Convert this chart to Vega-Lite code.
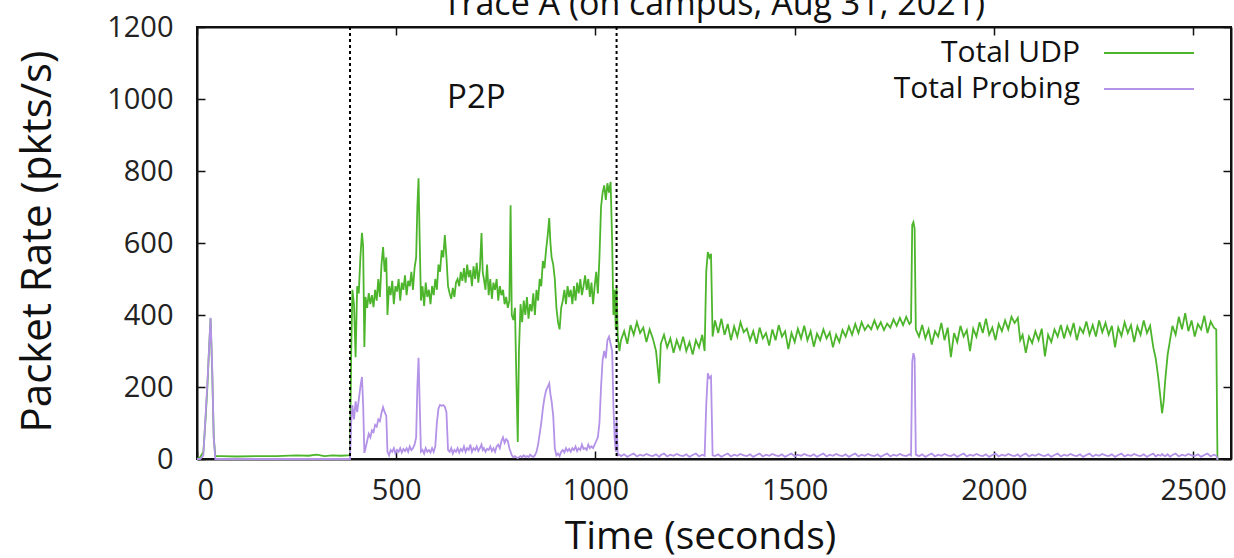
{
  "$schema": "https://vega.github.io/schema/vega-lite/v6.json",
  "width": 1034,
  "height": 432,
  "autosize": {"type": "none"},
  "padding": {"left": 197, "top": 27, "right": 3, "bottom": 99},
  "background": "white",
  "title": {"text": "Trace A (on campus, Aug 31, 2021)", "font": "Open Sans", "fontSize": 34, "fontWeight": "normal", "color": "#111", "offset": 6, "dy": 15, "anchor": "middle"},
  "config": {
    "view": {"stroke": "#111", "strokeWidth": 2},
    "axis": {"domainColor": "#111", "domainWidth": 2, "tickColor": "#111", "tickWidth": 1.5, "grid": false, "labelFont": "Open Sans", "labelFontSize": 29, "labelColor": "#222", "titleFont": "Open Sans", "titleFontWeight": "normal", "titleColor": "#111", "format": "d"}
  },
  "datasets": {
    "main": [
      {"t":0,"u":0,"p":0},{"t":8,"u":5,"p":0},{"t":16,"u":20,"p":10},{"t":22,"u":120,"p":130},{"t":26,"u":200,"p":210},{"t":30,"u":300,"p":300},{"t":34,"u":390,"p":392},{"t":38,"u":250,"p":260},{"t":42,"u":60,"p":60},{"t":46,"u":8,"p":0},
      {"t":60,"u":8,"p":0},{"t":100,"u":7,"p":0},{"t":150,"u":8,"p":0},{"t":200,"u":8,"p":0},{"t":250,"u":10,"p":0},{"t":280,"u":9,"p":0},{"t":300,"u":12,"p":0},{"t":320,"u":8,"p":0},{"t":340,"u":10,"p":0},{"t":360,"u":9,"p":0},{"t":380,"u":10,"p":0},
      {"t":384,"u":10,"p":0},{"t":387,"u":300,"p":100},{"t":390,"u":470,"p":150},{"t":394,"u":430,"p":110},{"t":398,"u":283,"p":160},{"t":402,"u":480,"p":130},{"t":406,"u":460,"p":164},{"t":410,"u":560,"p":200},{"t":414,"u":628,"p":228},{"t":417,"u":590,"p":150},
      {"t":420,"u":311,"p":17},{"t":423,"u":450,"p":30},{"t":427,"u":420,"p":50},{"t":431,"u":461,"p":70},{"t":435,"u":430,"p":60},{"t":439,"u":455,"p":80},{"t":443,"u":422,"p":75},{"t":447,"u":470,"p":95},{"t":451,"u":440,"p":90},{"t":455,"u":500,"p":110},
      {"t":459,"u":450,"p":105},{"t":463,"u":540,"p":128},{"t":467,"u":589,"p":144},{"t":471,"u":520,"p":130},{"t":475,"u":560,"p":120},{"t":478,"u":400,"p":20},{"t":482,"u":480,"p":10},{"t":486,"u":455,"p":25},{"t":490,"u":495,"p":20},{"t":494,"u":430,"p":30},
      {"t":498,"u":480,"p":15},{"t":502,"u":465,"p":25},{"t":506,"u":500,"p":20},{"t":510,"u":440,"p":30},{"t":514,"u":490,"p":18},{"t":518,"u":470,"p":28},{"t":522,"u":510,"p":22},{"t":526,"u":455,"p":30},{"t":530,"u":495,"p":20},{"t":534,"u":480,"p":35},
      {"t":538,"u":520,"p":25},{"t":542,"u":470,"p":30},{"t":546,"u":530,"p":40},{"t":550,"u":560,"p":60},{"t":553,"u":700,"p":200},{"t":556,"u":780,"p":281},{"t":559,"u":600,"p":150},{"t":562,"u":440,"p":20},{"t":566,"u":480,"p":25},{"t":570,"u":425,"p":15},
      {"t":574,"u":490,"p":30},{"t":578,"u":450,"p":20},{"t":582,"u":470,"p":25},{"t":586,"u":430,"p":18},{"t":590,"u":480,"p":30},{"t":594,"u":455,"p":20},{"t":598,"u":500,"p":35},{"t":602,"u":470,"p":100},{"t":606,"u":540,"p":140},{"t":610,"u":520,"p":150},
      {"t":614,"u":580,"p":148},{"t":618,"u":560,"p":150},{"t":622,"u":622,"p":145},{"t":626,"u":560,"p":130},{"t":630,"u":480,"p":25},{"t":634,"u":460,"p":20},{"t":638,"u":445,"p":30},{"t":642,"u":475,"p":15},{"t":646,"u":450,"p":25},{"t":650,"u":490,"p":20},
      {"t":654,"u":500,"p":30},{"t":658,"u":480,"p":18},{"t":662,"u":520,"p":28},{"t":666,"u":495,"p":22},{"t":670,"u":530,"p":35},{"t":674,"u":490,"p":20},{"t":678,"u":540,"p":30},{"t":682,"u":505,"p":25},{"t":686,"u":525,"p":40},{"t":690,"u":480,"p":20},
      {"t":694,"u":535,"p":30},{"t":698,"u":500,"p":25},{"t":702,"u":545,"p":35},{"t":706,"u":490,"p":22},{"t":710,"u":530,"p":30},{"t":714,"u":628,"p":40},{"t":717,"u":520,"p":25},{"t":720,"u":500,"p":30},{"t":724,"u":470,"p":20},{"t":728,"u":540,"p":28},
      {"t":732,"u":455,"p":25},{"t":736,"u":500,"p":35},{"t":740,"u":445,"p":22},{"t":744,"u":490,"p":30},{"t":748,"u":470,"p":20},{"t":752,"u":500,"p":35},{"t":756,"u":440,"p":40},{"t":760,"u":480,"p":30},{"t":764,"u":455,"p":50},{"t":768,"u":470,"p":60},
      {"t":772,"u":430,"p":45},{"t":776,"u":450,"p":55},{"t":780,"u":420,"p":50},{"t":784,"u":440,"p":30},{"t":787,"u":705,"p":20},{"t":790,"u":400,"p":10},{"t":794,"u":386,"p":5},{"t":798,"u":420,"p":8},{"t":801,"u":250,"p":5},{"t":805,"u":47,"p":3},
      {"t":808,"u":300,"p":5},{"t":812,"u":430,"p":8},{"t":816,"u":380,"p":5},{"t":820,"u":440,"p":10},{"t":824,"u":400,"p":6},{"t":828,"u":450,"p":8},{"t":832,"u":390,"p":5},{"t":836,"u":430,"p":12},{"t":840,"u":410,"p":8},{"t":844,"u":460,"p":6},
      {"t":848,"u":400,"p":10},{"t":852,"u":470,"p":20},{"t":856,"u":440,"p":40},{"t":860,"u":500,"p":70},{"t":864,"u":480,"p":100},{"t":868,"u":550,"p":140},{"t":872,"u":530,"p":170},{"t":876,"u":580,"p":190},{"t":880,"u":620,"p":200},{"t":884,"u":669,"p":210},
      {"t":887,"u":600,"p":180},{"t":890,"u":560,"p":160},{"t":894,"u":540,"p":120},{"t":898,"u":500,"p":30},{"t":902,"u":420,"p":10},{"t":906,"u":380,"p":15},{"t":910,"u":360,"p":8},{"t":914,"u":420,"p":20},{"t":918,"u":440,"p":25},{"t":922,"u":470,"p":18},
      {"t":926,"u":430,"p":30},{"t":930,"u":480,"p":22},{"t":934,"u":450,"p":28},{"t":938,"u":470,"p":20},{"t":942,"u":430,"p":30},{"t":946,"u":480,"p":25},{"t":950,"u":440,"p":35},{"t":954,"u":490,"p":22},{"t":958,"u":460,"p":30},{"t":962,"u":500,"p":25},
      {"t":966,"u":455,"p":40},{"t":970,"u":480,"p":28},{"t":974,"u":510,"p":30},{"t":978,"u":470,"p":25},{"t":982,"u":500,"p":40},{"t":986,"u":450,"p":30},{"t":990,"u":490,"p":35},{"t":994,"u":430,"p":30},{"t":998,"u":480,"p":40},{"t":1002,"u":520,"p":50},
      {"t":1006,"u":460,"p":60},{"t":1010,"u":560,"p":100},{"t":1014,"u":700,"p":200},{"t":1018,"u":740,"p":275},{"t":1022,"u":760,"p":300},{"t":1026,"u":720,"p":280},{"t":1030,"u":766,"p":330},{"t":1034,"u":740,"p":340},{"t":1038,"u":770,"p":320},{"t":1042,"u":600,"p":300},
      {"t":1045,"u":400,"p":150},{"t":1048,"u":470,"p":60},{"t":1051,"u":360,"p":20},{"t":1053,"u":478,"p":108},{"t":1056,"u":340,"p":10},{"t":1060,"u":300,"p":12},
      {"t":1064,"u":330,"p":8},{"t":1072,"u":355,"p":13},{"t":1080,"u":320,"p":6},{"t":1088,"u":372,"p":11},{"t":1096,"u":345,"p":15},{"t":1104,"u":380,"p":7},{"t":1112,"u":350,"p":12},{"t":1120,"u":365,"p":9},{"t":1128,"u":325,"p":14},{"t":1136,"u":360,"p":10},
      {"t":1144,"u":335,"p":8},{"t":1152,"u":300,"p":13},{"t":1160,"u":210,"p":6},{"t":1164,"u":320,"p":11},{"t":1172,"u":345,"p":15},{"t":1180,"u":310,"p":7},{"t":1188,"u":335,"p":12},{"t":1196,"u":295,"p":9},{"t":1204,"u":330,"p":14},{"t":1212,"u":305,"p":10},
      {"t":1220,"u":340,"p":8},{"t":1228,"u":300,"p":13},{"t":1236,"u":325,"p":6},{"t":1244,"u":290,"p":11},{"t":1252,"u":330,"p":15},{"t":1260,"u":310,"p":7},{"t":1268,"u":345,"p":12},{"t":1274,"u":300,"p":9},{"t":1278,"u":520,"p":150},{"t":1282,"u":575,"p":238},
      {"t":1286,"u":560,"p":225},{"t":1290,"u":570,"p":230},{"t":1294,"u":340,"p":10},{"t":1300,"u":385,"p":8},{"t":1308,"u":350,"p":13},{"t":1316,"u":390,"p":6},{"t":1324,"u":345,"p":11},{"t":1332,"u":375,"p":15},{"t":1340,"u":330,"p":7},{"t":1348,"u":368,"p":12},
      {"t":1356,"u":340,"p":9},{"t":1364,"u":380,"p":14},{"t":1372,"u":352,"p":10},{"t":1380,"u":362,"p":8},{"t":1388,"u":330,"p":13},{"t":1396,"u":355,"p":6},{"t":1404,"u":320,"p":11},{"t":1412,"u":365,"p":15},{"t":1420,"u":335,"p":7},{"t":1428,"u":350,"p":12},
      {"t":1436,"u":315,"p":9},{"t":1444,"u":360,"p":14},{"t":1452,"u":330,"p":10},{"t":1460,"u":372,"p":8},{"t":1468,"u":340,"p":13},{"t":1476,"u":355,"p":6},{"t":1484,"u":305,"p":11},{"t":1492,"u":350,"p":15},{"t":1500,"u":325,"p":7},{"t":1508,"u":362,"p":12},
      {"t":1516,"u":335,"p":9},{"t":1524,"u":370,"p":14},{"t":1532,"u":330,"p":10},{"t":1540,"u":355,"p":8},{"t":1548,"u":312,"p":13},{"t":1556,"u":348,"p":6},{"t":1564,"u":330,"p":11},{"t":1572,"u":360,"p":15},{"t":1580,"u":335,"p":7},{"t":1588,"u":352,"p":12},
      {"t":1596,"u":310,"p":9},{"t":1604,"u":345,"p":14},{"t":1612,"u":325,"p":10},{"t":1620,"u":358,"p":8},{"t":1628,"u":340,"p":13},{"t":1636,"u":368,"p":6},{"t":1644,"u":345,"p":11},{"t":1652,"u":375,"p":15},{"t":1660,"u":350,"p":7},{"t":1668,"u":380,"p":12},
      {"t":1676,"u":358,"p":9},{"t":1684,"u":372,"p":14},{"t":1692,"u":360,"p":10},{"t":1700,"u":385,"p":8},{"t":1708,"u":362,"p":13},{"t":1716,"u":380,"p":6},{"t":1724,"u":358,"p":11},{"t":1732,"u":376,"p":15},{"t":1740,"u":365,"p":7},{"t":1748,"u":388,"p":12},
      {"t":1756,"u":370,"p":9},{"t":1764,"u":392,"p":14},{"t":1772,"u":372,"p":10},{"t":1780,"u":395,"p":8},{"t":1788,"u":375,"p":13},{"t":1792,"u":380,"p":10},{"t":1795,"u":650,"p":270},{"t":1798,"u":658,"p":294},{"t":1801,"u":640,"p":280},{"t":1804,"u":360,"p":12},
      {"t":1812,"u":340,"p":8},{"t":1820,"u":372,"p":13},{"t":1828,"u":335,"p":6},{"t":1836,"u":360,"p":11},{"t":1844,"u":318,"p":15},{"t":1852,"u":355,"p":7},{"t":1860,"u":340,"p":12},{"t":1868,"u":378,"p":9},{"t":1876,"u":330,"p":14},{"t":1884,"u":365,"p":10},
      {"t":1892,"u":283,"p":8},{"t":1900,"u":350,"p":13},{"t":1908,"u":325,"p":6},{"t":1916,"u":370,"p":11},{"t":1924,"u":340,"p":15},{"t":1932,"u":358,"p":7},{"t":1940,"u":300,"p":12},{"t":1948,"u":362,"p":9},{"t":1956,"u":340,"p":14},{"t":1964,"u":380,"p":10},
      {"t":1972,"u":350,"p":8},{"t":1980,"u":390,"p":13},{"t":1988,"u":345,"p":6},{"t":1996,"u":365,"p":11},{"t":2004,"u":330,"p":15},{"t":2012,"u":375,"p":7},{"t":2020,"u":355,"p":12},{"t":2028,"u":385,"p":9},{"t":2036,"u":360,"p":14},{"t":2044,"u":395,"p":10},
      {"t":2052,"u":378,"p":8},{"t":2060,"u":392,"p":13},{"t":2066,"u":330,"p":6},{"t":2072,"u":345,"p":11},{"t":2080,"u":295,"p":15},{"t":2088,"u":340,"p":7},{"t":2096,"u":322,"p":12},{"t":2104,"u":355,"p":9},{"t":2112,"u":330,"p":14},{"t":2120,"u":362,"p":10},
      {"t":2128,"u":285,"p":8},{"t":2136,"u":345,"p":13},{"t":2144,"u":325,"p":6},{"t":2152,"u":360,"p":11},{"t":2160,"u":340,"p":15},{"t":2168,"u":372,"p":7},{"t":2176,"u":335,"p":12},{"t":2184,"u":368,"p":9},{"t":2192,"u":345,"p":14},{"t":2200,"u":378,"p":10},
      {"t":2208,"u":330,"p":8},{"t":2216,"u":365,"p":13},{"t":2224,"u":350,"p":6},{"t":2232,"u":382,"p":11},{"t":2240,"u":345,"p":15},{"t":2248,"u":372,"p":7},{"t":2256,"u":340,"p":12},{"t":2264,"u":385,"p":9},{"t":2272,"u":352,"p":14},{"t":2280,"u":378,"p":10},
      {"t":2288,"u":345,"p":8},{"t":2296,"u":370,"p":13},{"t":2304,"u":310,"p":6},{"t":2312,"u":365,"p":11},{"t":2320,"u":342,"p":15},{"t":2328,"u":380,"p":7},{"t":2336,"u":350,"p":12},{"t":2344,"u":372,"p":9},{"t":2352,"u":325,"p":14},{"t":2360,"u":368,"p":10},
      {"t":2368,"u":345,"p":8},{"t":2376,"u":385,"p":13},{"t":2384,"u":350,"p":6},{"t":2392,"u":370,"p":11},{"t":2400,"u":310,"p":15},{"t":2406,"u":280,"p":7},{"t":2412,"u":230,"p":12},{"t":2418,"u":170,"p":9},{"t":2422,"u":127,"p":14},{"t":2426,"u":160,"p":10},
      {"t":2430,"u":220,"p":8},{"t":2436,"u":290,"p":13},{"t":2442,"u":330,"p":6},{"t":2448,"u":370,"p":11},{"t":2456,"u":345,"p":15},{"t":2464,"u":395,"p":7},{"t":2472,"u":360,"p":12},{"t":2480,"u":405,"p":9},{"t":2488,"u":355,"p":14},{"t":2496,"u":385,"p":10},
      {"t":2504,"u":340,"p":8},{"t":2512,"u":375,"p":13},{"t":2520,"u":360,"p":6},{"t":2528,"u":398,"p":11},{"t":2536,"u":350,"p":15},{"t":2544,"u":382,"p":7},{"t":2552,"u":365,"p":12},{"t":2558,"u":360,"p":9},{"t":2561,"u":0,"p":0},{"t":2563,"u":0,"p":0}
    ],
    "phases": [{"t": 384}, {"t": 1053}]
  },
  "layer": [
    {
      "data": {"name": "main"},
      "mark": {"type": "line", "strokeWidth": 1.8, "interpolate": "linear"},
      "encoding": {
        "x": {"field": "t", "type": "quantitative", "scale": {"domain": [0, 2595], "nice": false, "zero": false},
              "axis": {"orient": "bottom", "values": [0, 500, 1000, 1500, 2000, 2500], "tickSize": -8, "labelPadding": 25, "title": "Time (seconds)", "titleFontSize": 39, "titleBaseline": "alphabetic", "titleX": 503, "titleY": 89, "titleAnchor": "middle"}},
        "y": {"field": "u", "type": "quantitative", "scale": {"domain": [0, 1200], "nice": false},
              "axis": {"orient": "left", "values": [0, 200, 400, 600, 800, 1000, 1200], "tickSize": -8, "labelPadding": 32, "title": "Packet Rate (pkts/s)", "titleFontSize": 42, "titleBaseline": "alphabetic", "titleAngle": -90, "titleX": -147, "titleY": 214, "titleAlign": "center"}},
        "color": {"datum": "Total UDP", "type": "nominal",
                  "scale": {"domain": ["Total UDP", "Total Probing"], "range": ["#4db52c", "#b392e8"]},
                  "legend": {"orient": "none", "legendX": 936, "legendY": 10, "title": null, "symbolType": "M-3,0H3", "symbolSize": 900, "symbolStrokeWidth": 2, "symbolFillColor": "transparent", "labelFont": "Open Sans", "labelFontSize": 30, "labelColor": "#111", "labelAlign": "right", "labelOffset": -85, "labelLimit": 0, "rowPadding": 5, "padding": 0}}
      }
    },
    {
      "data": {"name": "main"},
      "mark": {"type": "line", "strokeWidth": 1.8, "interpolate": "linear"},
      "encoding": {
        "x": {"field": "t", "type": "quantitative", "scale": {"domain": [0, 2595], "nice": false, "zero": false},
              "axis": {"orient": "top", "values": [0, 500, 1000, 1500, 2000, 2500], "tickSize": -8, "labels": false, "title": null}},
        "y": {"field": "p", "type": "quantitative", "scale": {"domain": [0, 1200], "nice": false},
              "axis": {"orient": "right", "values": [0, 200, 400, 600, 800, 1000, 1200], "tickSize": -8, "labels": false, "title": null}},
        "color": {"datum": "Total Probing", "type": "nominal"}
      }
    },
    {
      "data": {"name": "phases"},
      "mark": {"type": "rule", "color": "#000", "strokeWidth": 2, "strokeDash": [3, 3]},
      "encoding": {
        "x": {"field": "t", "type": "quantitative", "axis": null}
      }
    },
    {
      "data": {"values": [{}]},
      "mark": {"type": "text", "font": "Open Sans", "fontSize": 33, "color": "#111", "align": "center", "baseline": "alphabetic"},
      "encoding": {
        "x": {"datum": 701, "type": "quantitative", "axis": null},
        "y": {"datum": 975, "type": "quantitative", "axis": null},
        "text": {"value": "P2P"}
      }
    }
  ],
  "resolve": {"axis": {"x": "independent", "y": "independent"}}
}
